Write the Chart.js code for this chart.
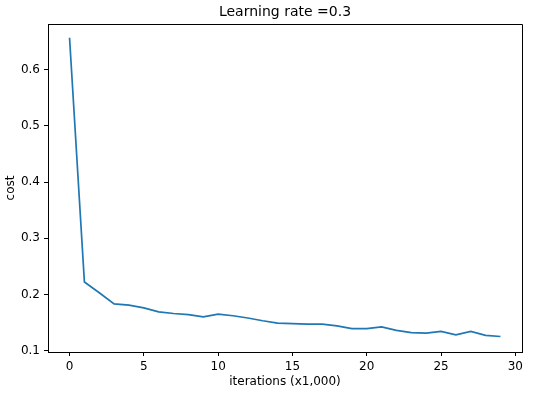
<!DOCTYPE html>
<html>
<head>
<meta charset="utf-8">
<script src="https://cdn.jsdelivr.net/npm/chart.js@4.4.0/dist/chart.umd.min.js"></script>
<style>
  html, body { margin: 0; padding: 0; background: #fff; }
</style>
</head>
<body>
<canvas id="costChart" width="534" height="397"></canvas>
<script>
// iterations (in thousands) and the cost
const iterations = [0, 1, 2, 3, 4, 5, 6, 7, 8, 9, 10, 11, 12, 13, 14, 15, 16, 17, 18, 19, 20, 21, 22, 23, 24, 25, 26, 27, 28, 29];
const costs = [0.657, 0.222, 0.203, 0.183, 0.181, 0.176, 0.169, 0.166, 0.164, 0.160,
               0.165, 0.162, 0.158, 0.153, 0.149, 0.148, 0.147, 0.147, 0.144, 0.139,
               0.139, 0.142, 0.136, 0.132, 0.131, 0.134, 0.128, 0.134, 0.127, 0.125];
const xTicks = [0, 5, 10, 15, 20, 25, 30];
const yTicks = [0.1, 0.2, 0.3, 0.4, 0.5, 0.6];

const FONT = "'DejaVu Sans', sans-serif";

// top and right spines (left/bottom come from the axis borders)
const frameBox = {
  id: 'frameBox',
  afterDraw(chart) {
    const {ctx, chartArea: a} = chart;
    const top = Math.round(a.top - 0.5) + 0.5;
    const right = Math.round(a.right - 0.5) + 0.5;
    const left = Math.round(a.left - 0.5) + 0.5;
    const bottom = Math.round(a.bottom - 0.5) + 0.5;
    ctx.save();
    ctx.strokeStyle = '#000';
    ctx.lineWidth = 1;
    ctx.beginPath();
    ctx.moveTo(left, top);
    ctx.lineTo(right, top);
    ctx.lineTo(right, bottom);
    ctx.stroke();
    ctx.restore();
  }
};

function axisBits(tickList) {
  return {
    afterBuildTicks: (scale) => { scale.ticks = tickList.map(v => ({value: v})); },
    grid: { drawOnChartArea: false, drawTicks: true, tickLength: 4, color: '#000', tickWidth: 1 },
    border: { color: '#000', width: 1 },
  };
}

new Chart('costChart', {
  type: 'line',
  data: {
    datasets: [{
      data: iterations.map((it, i) => ({x: it, y: costs[i]})),
      borderColor: '#1f77b4',
      borderWidth: 1.7,
      pointRadius: 0,
      tension: 0,
      fill: false
    }]
  },
  options: {
    responsive: false,
    devicePixelRatio: 1,
    animation: false,
    layout: { padding: { left: 0, right: 12, top: 0, bottom: 0 } },
    plugins: {
      legend: { display: false },
      tooltip: { enabled: false },
      title: {
        display: true,
        fullSize: false,
        text: 'Learning rate =0.3',
        color: '#000',
        font: { family: FONT, size: 14, weight: 'normal' },
        padding: { top: 4, bottom: 3.2 }
      }
    },
    scales: {
      x: {
        type: 'linear',
        min: -1.45,
        max: 30.45,
        ...axisBits(xTicks),
        afterFit: (scale) => { scale.height = 45; },
        ticks: {
          color: '#000', padding: 4, maxRotation: 0, autoSkip: false,
          font: { family: FONT, size: 12 }
        },
        title: {
          display: true, text: 'iterations (x1,000)', color: '#000',
          font: { family: FONT, size: 12 }, padding: { top: 0, bottom: 8 }
        }
      },
      y: {
        type: 'linear',
        min: 0.0974,
        max: 0.6816,
        ...axisBits(yTicks),
        afterFit: (scale) => { scale.width = 48; },
        ticks: {
          color: '#000', padding: 4, autoSkip: false,
          font: { family: FONT, size: 12 },
          callback: (v) => v.toFixed(1)
        },
        title: {
          display: true, text: 'cost', color: '#000',
          font: { family: FONT, size: 12 }, padding: { top: 4, bottom: 0 }
        }
      }
    }
  },
  plugins: [frameBox]
});
</script>
</body>
</html>
